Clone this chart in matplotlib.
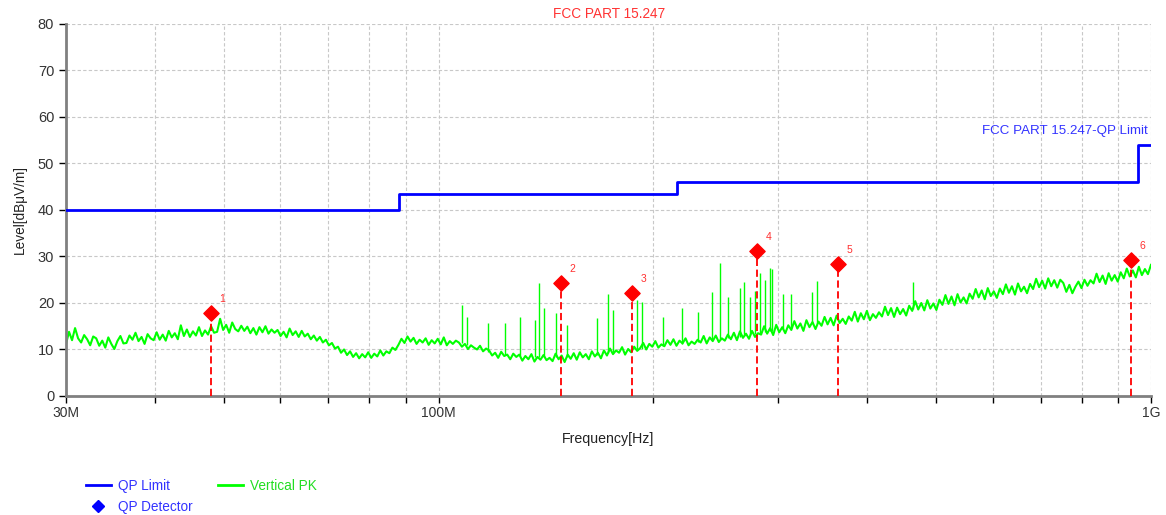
import matplotlib
matplotlib.use("Agg")
import matplotlib.pyplot as plt
from matplotlib.lines import Line2D
import numpy as np

plt.rcParams['font.family'] = ['Liberation Sans', 'DejaVu Sans']

# limit line (MHz, dBuV/m), drawn as steps
limit_freq = [30, 88, 88, 216, 216, 960, 960, 1000]
limit_level = [40, 40, 43.5, 43.5, 46, 46, 54, 54]

# peak trace levels, log spaced from 30 MHz to 1 GHz
trace_level = [
    11.2, 13.8, 12.0, 14.6, 12.4, 11.5, 13.1, 12.2, 10.9, 12.8,
    12.4, 10.8, 11.9, 10.4, 12.6, 11.2, 10.1, 11.8, 12.9, 11.3,
    11.4, 13.0, 12.1, 13.6, 11.8, 12.7, 11.2, 13.3, 12.4, 12.0,
    13.7, 12.1, 13.2, 11.9, 14.0, 12.6, 13.5, 12.2, 15.2, 12.9,
    14.3, 12.7, 13.9, 13.0, 14.8, 12.9, 14.1, 13.2, 15.0, 13.6,
    13.8, 16.6, 14.2, 15.3, 13.6, 15.8, 14.4, 13.9, 15.1, 14.0,
    14.9, 13.5, 14.6, 13.2, 14.8, 13.7, 15.0, 13.4, 14.3, 13.6,
    14.2, 12.9, 13.8, 12.6, 14.5, 13.1, 13.9, 12.7, 14.0, 12.8,
    13.4, 12.2, 13.0, 11.9, 12.7, 11.5, 12.1, 10.9, 11.4, 10.2,
    10.6, 9.3, 10.0, 8.8, 9.6, 8.4, 9.2, 8.1, 9.0, 8.3,
    9.4, 8.2, 9.1, 8.5, 9.8, 8.7, 9.6, 9.2, 10.4, 9.9,
    11.0, 12.3, 11.4, 12.8, 11.7, 12.5, 11.2, 12.1, 11.5, 12.4,
    11.0, 12.0, 11.3, 12.3, 11.1, 12.6, 10.9, 11.8, 11.2, 11.9,
    11.5, 10.6, 11.2, 10.1, 10.9, 10.4, 10.0, 10.8, 9.6, 10.2,
    9.8, 8.7, 9.3, 8.2, 9.5, 8.6, 8.9, 7.9, 9.1, 8.4,
    8.9, 7.6, 8.6, 7.9, 9.0, 7.4, 8.4, 7.8, 8.8, 7.7,
    8.2, 7.5, 9.1, 7.9, 8.7, 7.3, 8.9, 8.0, 9.2, 7.8,
    9.4, 8.3, 9.0, 7.9, 9.6, 8.5, 9.3, 8.1, 9.8, 8.7,
    10.2, 9.0, 9.8, 9.3, 10.5, 8.9, 10.1, 9.4, 10.6, 9.7,
    10.3, 11.4, 10.0, 11.2, 10.6, 11.8, 10.4, 11.1, 10.7, 12.0,
    11.0, 12.2, 10.8, 11.9, 11.3, 12.4, 10.9, 11.7, 11.2, 12.1,
    11.5, 12.9, 11.3, 12.6, 11.8, 13.0, 11.6, 12.4, 11.9, 13.2,
    12.2, 13.6, 12.0, 13.9, 12.5, 13.4, 12.3, 14.0, 12.7, 13.5,
    13.2, 15.0, 13.4, 14.6, 13.1, 15.3, 13.7, 14.8, 13.5, 15.2,
    14.2, 16.1, 14.5, 15.6, 14.0, 16.3, 14.8, 15.9, 14.4, 16.0,
    15.1, 17.0, 15.4, 16.8, 15.2, 17.3, 15.7, 16.6, 15.5, 17.1,
    16.2, 18.1, 16.0, 17.8, 16.5, 18.3, 16.3, 17.6, 16.8, 18.0,
    17.1, 19.2, 17.4, 18.9, 17.0, 19.0, 17.6, 18.7, 17.3, 19.4,
    18.3, 20.4, 18.6, 20.0, 18.4, 20.6, 18.8, 19.9, 18.5, 20.7,
    19.6, 21.7, 19.8, 21.4, 19.5, 21.9, 20.1, 21.2, 19.9, 22.0,
    20.9, 23.0, 21.2, 22.7, 20.8, 23.2, 21.5, 22.5, 21.1, 23.1,
    21.9, 24.0, 22.2, 23.6, 21.8, 24.2, 22.5, 23.5, 22.1, 24.1,
    23.0, 25.2, 23.4, 24.8, 23.1, 25.3, 23.6, 24.9, 23.3, 25.0,
    24.3, 22.4, 23.9, 22.1, 23.5, 24.6, 23.2, 25.0, 23.7, 24.9,
    24.2, 26.3, 24.5, 25.9, 24.1, 26.4, 24.8, 26.0, 24.6, 26.6,
    25.3, 27.4, 25.7, 27.0, 25.5, 27.8, 26.0, 27.3, 26.2, 28.2,
]
trace_freq = np.geomspace(30, 1000, len(trace_level))

# narrow spikes on the peak trace
spike_freq = [107.8, 109.6, 117.4, 124.0, 130.0, 136.6, 138.4, 140.6, 146.2, 151.5,
              167.0, 173.0, 175.8, 189.9, 193.0, 206.5, 219.6, 231.3, 242.0, 248.3,
              254.8, 264.9, 268.0, 273.6, 278.0, 282.6, 287.0, 291.9, 293.8, 304.4,
              312.3, 334.2, 339.6, 463.5]
spike_top = [19.6, 17.0, 15.7, 15.8, 17.0, 16.3, 24.3, 19.0, 17.8, 15.3,
             16.8, 22.0, 18.5, 20.6, 20.2, 17.0, 19.0, 18.0, 22.4, 28.6,
             21.3, 23.2, 24.5, 21.3, 22.5, 26.4, 25.0, 27.5, 27.3, 22.0,
             22.0, 22.4, 24.7, 24.5]
spike_base = [11.5, 11.0, 9.5, 8.8, 8.5, 8.3, 8.3, 8.3, 8.4, 8.4,
              8.9, 9.2, 9.4, 9.8, 10.0, 10.8, 11.2, 11.6, 12.0, 12.2,
              12.4, 12.7, 12.9, 13.2, 13.4, 13.6, 13.8, 14.0, 14.0, 14.5,
              14.8, 15.6, 15.8, 18.6]

# QP detector points
qp_freq = [47.9, 148.5, 186.8, 279.9, 363.6, 937.0]
qp_level = [17.8, 24.3, 22.1, 31.2, 28.4, 29.2]
qp_label = ['1', '2', '3', '4', '5', '6']

fig = plt.figure(figsize=(11.66, 5.15), dpi=100)
ax = fig.add_axes([0.0566, 0.2311, 0.9305, 0.7223])

ax.set_xscale('log')
ax.set_xlim(30, 1000)
ax.set_ylim(0, 80)

ax.vlines(spike_freq, spike_base, spike_top, color='#00ff00', lw=1, zorder=2)
ax.plot(trace_freq, trace_level, color='#00ff00', lw=1.5, zorder=2)
ax.plot(limit_freq, limit_level, color='#0000ff', lw=2, zorder=3)

ax.vlines(qp_freq, 0, qp_level, color='#ff0000', lw=1.3, linestyles=(0, (4, 2)), zorder=4)
ax.scatter(qp_freq, qp_level, marker='D', s=60, color='#ff0000', zorder=5)
for f, v, lab in zip(qp_freq, qp_level, qp_label):
    ax.annotate(lab, (f, v), xytext=(6, 8), textcoords='offset points',
                color='#ff3030', fontsize=7.5)

ax.text(990, 57, 'FCC PART 15.247-QP Limit', color='#3333ff', fontsize=9.6,
        ha='right', va='center')

# ticks and grid
ax.set_yticks(range(0, 81, 10))
ax.set_xticks([30, 100, 1000])
ax.set_xticklabels(['30M', '100M', '1G'])
ax.set_xticks([40, 50, 60, 70, 80, 90, 200, 300, 400, 500, 600, 700, 800, 900], minor=True)
ax.xaxis.set_minor_formatter(matplotlib.ticker.NullFormatter())
ax.tick_params(axis='both', which='both', direction='out', length=5, width=1,
               labelsize=10.5, colors='black', labelcolor='#333333')
ax.tick_params(axis='x', pad=2, labelsize=10)
ax.grid(True, which='both', color='#c8c8c8', ls=(0, (3, 2)), lw=0.8)
ax.set_axisbelow(True)

for s in ['top', 'right']:
    ax.spines[s].set_visible(False)
for s in ['left', 'bottom']:
    ax.spines[s].set_color('#808080')
    ax.spines[s].set_linewidth(2)

ax.set_ylabel('Level[dB\u03bcV/m]', fontsize=9.8, color='#222222', labelpad=8)
ax.set_xlabel('Frequency[Hz]', fontsize=10.2, color='#222222', labelpad=9)

fig.text(0.522, 0.972, 'FCC PART 15.247', color='#ff3333', fontsize=9.8,
         ha='center', va='center')

handles = [Line2D([], [], color='#0000ff', lw=2),
           Line2D([], [], color='#0000ff', marker='D', ls='none', markersize=6),
           Line2D([], [], color='#00ff00', lw=2)]
labels = ['QP Limit', 'QP Detector', 'Vertical PK']
leg = fig.legend(handles, labels, ncol=2, frameon=False, loc='upper left',
                 bbox_to_anchor=(0.063, 0.094), fontsize=9.8,
                 handlelength=1.85, columnspacing=1.9, labelspacing=0.5,
                 handletextpad=0.5)
for t, c in zip(leg.get_texts(), ['#3333ff', '#3333ff', '#22dd22']):
    t.set_color(c)

fig.savefig('out.png', dpi=100)
